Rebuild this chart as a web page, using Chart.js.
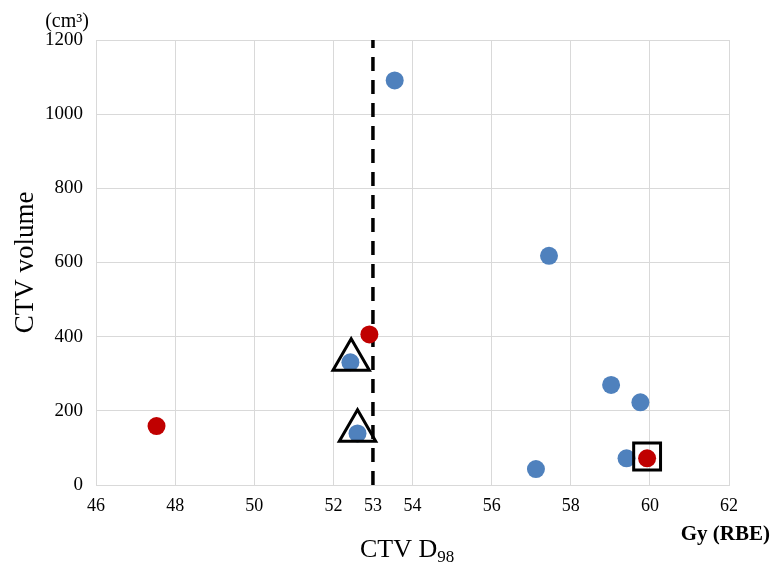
<!DOCTYPE html>
<html>
<head>
<meta charset="utf-8">
<script src="https://cdn.jsdelivr.net/npm/chart.js@4/dist/chart.umd.min.js"></script>
<style>
  html, body { margin: 0; padding: 0; background: #fff; }
  #wrap { width: 772px; height: 562px; }
</style>
</head>
<body>
<div id="wrap"><canvas id="chart"></canvas></div>
<script>
// --- Data ---
const blueX = [53.55, 57.45, 52.43, 52.61, 59.02, 59.76, 57.12, 59.41];
const blueY = [1091, 618, 331, 139, 270, 223, 43, 72];
const redX = [47.53, 52.91, 59.93];
const redY = [159, 406, 72];
const triX = [52.45, 52.61];
const triY = [338, 146];
const boxX = [59.93];
const boxY = [77];
const cutX = [53, 53];
const cutY = [0, 1200];
const xTicks = [46, 48, 50, 52, 53, 54, 56, 58, 60, 62];
const yTicks = [0, 200, 400, 600, 800, 1000, 1200];

const pts = (xs, ys) => xs.map((x, i) => ({ x: x, y: ys[i] }));
const serif = "'Liberation Serif', 'DejaVu Serif', serif";
const gridColor = '#d9d9d9';

// --- Extra labels: unit, x title with subscript, Gy (RBE) ---
const labelsPlugin = {
    id: 'labels',
    afterDraw(chart) {
        const ctx = chart.ctx;
        ctx.save();
        ctx.fillStyle = '#000';
        ctx.textBaseline = 'alphabetic';

        ctx.font = `20px ${serif}`;
        ctx.textAlign = 'center';
        ctx.fillText('(cm³)', 67, 27);

        ctx.textAlign = 'left';
        ctx.font = `26px ${serif}`;
        const main = 'CTV D';
        const w = ctx.measureText(main).width;
        ctx.fillText(main, 360, 557);
        ctx.font = `17px ${serif}`;
        ctx.fillText('98', 360 + w, 562);

        ctx.font = `bold 21px ${serif}`;
        ctx.textAlign = 'right';
        ctx.fillText('Gy (RBE)', 770, 540);
        ctx.restore();
    }
};

new Chart(document.getElementById('chart'), {
    type: 'scatter',
    data: {
        datasets: [
            {
                data: pts(triX, triY),
                pointStyle: 'triangle',
                pointRadius: 21,
                pointHoverRadius: 21,
                borderColor: '#000',
                backgroundColor: 'rgba(0,0,0,0)',
                borderWidth: 3,
                order: 0,
            },
            {
                data: pts(boxX, boxY),
                pointStyle: 'rect',
                pointRadius: 19,
                pointHoverRadius: 19,
                borderColor: '#000',
                backgroundColor: 'rgba(0,0,0,0)',
                borderWidth: 3,
                order: 0,
            },
            {
                data: pts(redX, redY),
                pointRadius: 9,
                pointHoverRadius: 9,
                backgroundColor: '#c00000',
                borderColor: '#c00000',
                borderWidth: 0,
                order: 1,
            },
            {
                data: pts(blueX, blueY),
                pointRadius: 9,
                pointHoverRadius: 9,
                backgroundColor: '#4f81bd',
                borderColor: '#4f81bd',
                borderWidth: 0,
                order: 2,
            },
            {
                type: 'line',
                data: pts(cutX, cutY),
                showLine: true,
                pointRadius: 0,
                borderColor: '#000',
                borderWidth: 3.5,
                borderDash: [14, 9],
                fill: false,
                order: 3,
            },
        ]
    },
    options: {
        responsive: true,
        maintainAspectRatio: false,
        animation: false,
        layout: { padding: { top: 40, right: 43, left: 0, bottom: 0 } },
        plugins: { legend: { display: false }, tooltip: { enabled: false } },
        scales: {
            x: {
                type: 'linear',
                min: 46,
                max: 62,
                afterBuildTicks: axis => { axis.ticks = xTicks.map(v => ({ value: v })); },
                afterFit: axis => { axis.height = 77; },
                grid: {
                    color: c => (c.tick && c.tick.value === 53) ? 'rgba(0,0,0,0)' : gridColor,
                    drawTicks: false,
                },
                border: { color: gridColor },
                ticks: { color: '#000', font: { family: serif, size: 18 }, padding: 10, maxRotation: 0, autoSkip: false, callback: v => String(v) },
            },
            y: {
                min: 0,
                max: 1200,
                afterBuildTicks: axis => { axis.ticks = yTicks.map(v => ({ value: v })); },
                afterFit: axis => { axis.width = 96; },
                grid: { color: gridColor, drawTicks: false },
                border: { color: gridColor },
                ticks: { color: '#000', font: { family: serif, size: 19 }, padding: 13, callback: v => String(v) },
                title: {
                    display: true,
                    text: 'CTV volume',
                    color: '#000',
                    font: { family: serif, size: 27, lineHeight: 1 },
                    padding: { top: 12, bottom: 0 },
                },
            }
        }
    },
    plugins: [labelsPlugin]
});
</script>
</body>
</html>
